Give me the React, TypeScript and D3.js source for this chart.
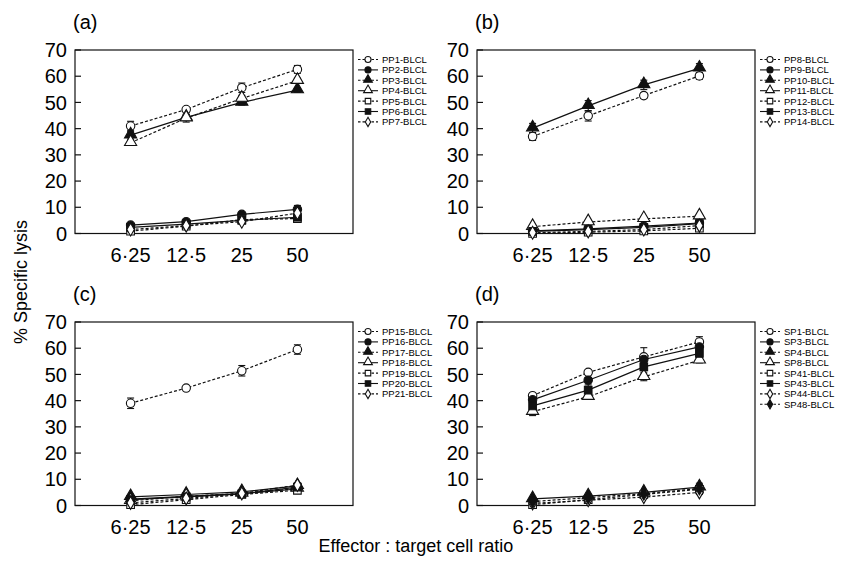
import React from "react";
import * as d3 from "d3";

// effector:target ratios on the x axis
const ratios = ["6·25", "12·5", "25", "50"];
const yTicks = [0, 10, 20, 30, 40, 50, 60, 70];

// marker order: open circle, filled circle, filled triangle, open triangle,
// open square, filled square, open diamond, filled diamond
const legendDashed = [true, false, true, false, true, false, true, true];
const plotDashed = [true, false, false, true, true, false, true, true];

const namesA = ["PP1-BLCL", "PP2-BLCL", "PP3-BLCL", "PP4-BLCL", "PP5-BLCL", "PP6-BLCL", "PP7-BLCL"];
const valuesA = [
  [41, 47.3, 55.6, 62.6],
  [3.2, 4.5, 7.3, 9.2],
  [37.5, 44.3, 50, 54.7],
  [34.6, 44, 51.5, 58.3],
  [0.9, 2.8, 5.3, 5.7],
  [2.3, 3.6, 5, 6.2],
  [1.5, 3, 4.5, 7.8],
];
const errorsA = [
  [1.8, 0.8, 1.8, 1.5],
  [0.5, 0.5, 0.8, 1.5],
  [1.5, 1, 1, 0.8],
  [1, 1.5, 1.2, 1],
  [0.5, 0.5, 0.5, 0.8],
  [0.5, 0.5, 0.5, 0.8],
  [0.5, 0.5, 0.5, 0.8],
];

const namesB = ["PP8-BLCL", "PP9-BLCL", "PP10-BLCL", "PP11-BLCL", "PP12-BLCL", "PP13-BLCL", "PP14-BLCL"];
const valuesB = [
  [37, 44.9, 52.6, 60.1],
  [1, 1.8, 2.8, 4],
  [40.2, 48.7, 56.7, 63],
  [2.6, 4.4, 5.6, 6.6],
  [0, 0.5, 1, 2],
  [0.8, 1.5, 2.3, 3.8],
  [0.3, 0.8, 1.5, 3],
];
const errorsB = [
  [1.5, 2, 1, 1.3],
  [0.5, 0.5, 0.5, 0.5],
  [1.8, 2, 1.8, 1.8],
  [0.5, 0.5, 0.5, 0.5],
  [0.5, 0.5, 0.5, 0.5],
  [0.5, 0.5, 0.5, 0.8],
  [0.5, 0.5, 0.5, 0.5],
];

const namesC = ["PP15-BLCL", "PP16-BLCL", "PP17-BLCL", "PP18-BLCL", "PP19-BLCL", "PP20-BLCL", "PP21-BLCL"];
const valuesC = [
  [39, 44.8, 51.4, 59.5],
  [2.4, 3.5, 4.5, 6.3],
  [3.3, 4.2, 5.2, 7.5],
  [1.8, 3.5, 4.6, 6.5],
  [0.3, 2.2, 4.2, 5.8],
  [2.2, 3.3, 4.4, 7],
  [1, 2.7, 4.6, 7.8],
];
const errorsC = [
  [2, 0.6, 2, 1.8],
  [0.5, 0.5, 0.5, 0.8],
  [0.5, 0.5, 0.5, 0.8],
  [0.5, 0.5, 0.5, 0.8],
  [0.5, 0.5, 0.5, 0.5],
  [0.5, 0.5, 0.5, 0.8],
  [0.5, 0.5, 0.5, 0.8],
];

const namesD = ["SP1-BLCL", "SP3-BLCL", "SP4-BLCL", "SP8-BLCL", "SP41-BLCL", "SP43-BLCL", "SP44-BLCL", "SP48-BLCL"];
const valuesD = [
  [41.9, 50.8, 56.7, 62.4],
  [40.3, 47.8, 55.7, 60.5],
  [2.5, 3.6, 5, 7],
  [35.8, 41.5, 49.1, 55.4],
  [0.3, 2.2, 4.2, 6.2],
  [38, 44, 52.9, 58],
  [0.8, 2, 3.2, 5],
  [1.5, 3, 4.5, 6.5],
];
const errorsD = [
  [0.8, 0.8, 3.5, 2],
  [1, 1, 1, 1],
  [0.5, 0.5, 0.5, 0.8],
  [1.5, 1, 1.5, 1],
  [0.5, 0.5, 0.5, 0.8],
  [1, 2, 1.5, 1],
  [0.5, 0.5, 0.5, 0.8],
  [0.5, 0.5, 0.5, 2],
];

const FONT = "'Liberation Sans', Arial, Helvetica, sans-serif";
const W = 845;
const H = 569;
const PW = 278;
const PH = 183.5;

const symbolTypes = [
  d3.symbolCircle,
  d3.symbolCircle,
  d3.symbolTriangle,
  d3.symbolTriangle,
  d3.symbolSquare,
  d3.symbolSquare,
  d3.symbolDiamond,
  d3.symbolDiamond,
];
const symbolSizes = [56, 56, 64, 64, 58, 58, 48, 48];
const filled = (k: number) => k === 1 || k === 2 || k === 5 || k === 7;

function Marker({ k, x, y, scale = 1 }: { k: number; x: number; y: number; scale?: number }) {
  const path = d3.symbol(symbolTypes[k], symbolSizes[k] * scale * scale)() || "";
  const dy = symbolTypes[k] === d3.symbolTriangle ? -0.8 * scale : 0;
  return (
    <path
      d={path}
      transform={`translate(${x},${y + dy})`}
      fill={filled(k) ? "#111" : "#fff"}
      stroke="#111"
      strokeWidth={1.1}
    />
  );
}

function Panel({ left, top, tag, names, values, errors }: any) {
  const x = d3.scaleLinear().domain([0, 5]).range([0, PW]);
  const y = d3.scaleLinear().domain([0, 70]).range([PH, 0]);
  const line = d3.line<number>().x((_, i) => x(i + 1)).y((d) => y(d));

  return (
    <g transform={`translate(${left},${top})`}>
      <text x={-2} y={-21} fontSize={20} fontFamily={FONT}>{tag}</text>
      <rect x={0} y={0} width={PW} height={PH} fill="none" stroke="#111" strokeWidth={1.2} />
      {yTicks.map((t) => (
        <g key={t}>
          <line x1={0} x2={6} y1={y(t)} y2={y(t)} stroke="#111" strokeWidth={1.2} />
          <text x={-8} y={y(t)} dy="0.36em" textAnchor="end" fontSize={20} fontFamily={FONT}>{t}</text>
        </g>
      ))}
      {ratios.map((r, i) => (
        <text key={r} x={x(i + 1)} y={PH + 28} textAnchor="middle" fontSize={20} fontFamily={FONT}>{r}</text>
      ))}
      {values.map((vals: number[], k: number) => (
        <path
          key={"l" + k}
          d={line(vals) || ""}
          fill="none"
          stroke="#111"
          strokeWidth={1.2}
          strokeDasharray={plotDashed[k] ? "3,2" : undefined}
        />
      ))}
      {values.map((vals: number[], k: number) =>
        vals.map((v, i) => {
          const e = errors[k][i];
          const cx = x(i + 1);
          return (
            <g key={`e${k}-${i}`} stroke="#111" strokeWidth={1.1}>
              <line x1={cx} x2={cx} y1={y(v + e)} y2={y(Math.max(0, v - e))} />
              <line x1={cx - 3.5} x2={cx + 3.5} y1={y(v + e)} y2={y(v + e)} />
              <line x1={cx - 3.5} x2={cx + 3.5} y1={y(Math.max(0, v - e))} y2={y(Math.max(0, v - e))} />
            </g>
          );
        })
      )}
      {values.map((vals: number[], k: number) =>
        vals.map((v, i) => <Marker key={`m${k}-${i}`} k={k} x={x(i + 1)} y={y(v)} />)
      )}
      <g transform={`translate(${PW + 5},${9.5})`}>
        {names.map((n: string, k: number) => (
          <g key={n} transform={`translate(0,${k * 10.4})`}>
            <line
              x1={0}
              x2={20}
              y1={0}
              y2={0}
              stroke="#111"
              strokeWidth={1.1}
              strokeDasharray={legendDashed[k] ? "2.5,2" : undefined}
            />
            <Marker k={k} x={10} y={0} scale={0.72} />
            <text x={24} y={0} dy="0.36em" fontSize={9.5} fontFamily={FONT}>{n}</text>
          </g>
        ))}
      </g>
    </g>
  );
}

export default function App() {
  return (
    <svg width={W} height={H} style={{ position: "absolute", left: 0, top: 0, background: "#fff" }}>
      <Panel left={75} top={50} tag="(a)" names={namesA} values={valuesA} errors={errorsA} />
      <Panel left={477} top={50} tag="(b)" names={namesB} values={valuesB} errors={errorsB} />
      <Panel left={75} top={322} tag="(c)" names={namesC} values={valuesC} errors={errorsC} />
      <Panel left={477} top={322} tag="(d)" names={namesD} values={valuesD} errors={errorsD} />
      <text
        transform={`translate(27,${282}) rotate(-90)`}
        textAnchor="middle"
        fontSize={18}
        fontFamily={FONT}
      >
        % Specific lysis
      </text>
      <text x={416} y={552} textAnchor="middle" fontSize={18} fontFamily={FONT}>
        Effector : target cell ratio
      </text>
    </svg>
  );
}
